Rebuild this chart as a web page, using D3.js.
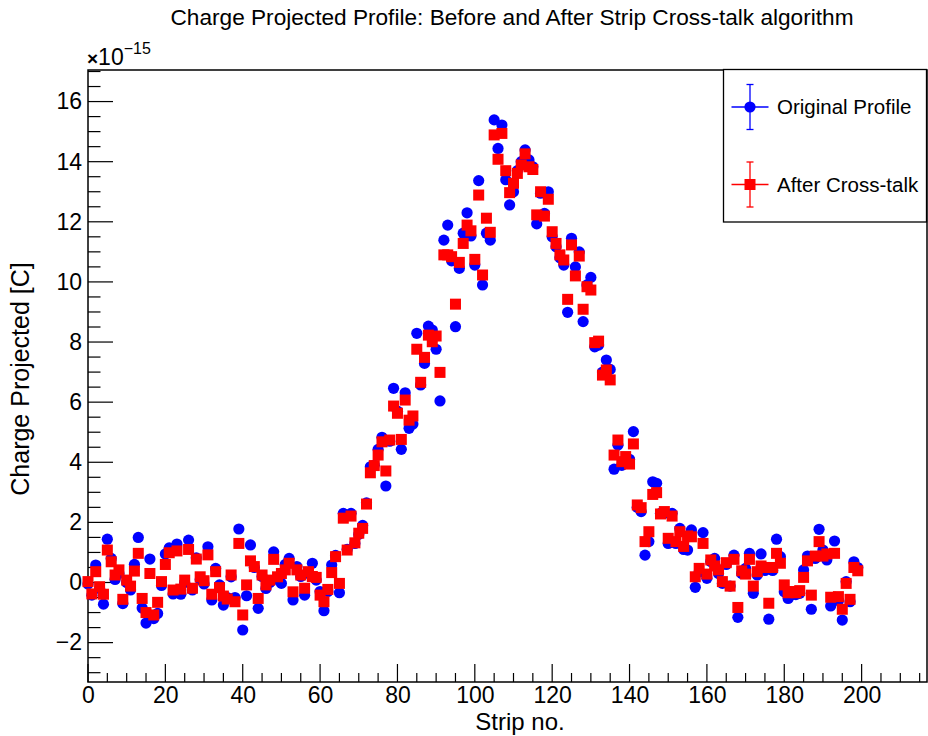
<!DOCTYPE html>
<html>
<head>
<meta charset="utf-8">
<script src="https://cdn.jsdelivr.net/npm/d3@7"></script>
<style>
  body { margin: 0; background: #fff; }
  svg { display: block; font-family: 'Liberation Sans', Arial, sans-serif; }
</style>
</head>
<body>
<div id="plot"></div>
<script>
// Strip numbers 0..199
let strips = d3.range(0, 200)

// Charge per strip, units of 1e-15 C
let originalProfile = [
  -0.05, -0.42, 0.58, -0.2, -0.72, 1.44, 0.8, 0.1, 0.3, -0.7,
  0.0, -0.25, 0.6, 1.5, -0.85, -1.35, 0.78, -1.2, -1.03, -0.1,
  0.95, 1.15, -0.38, 1.28, -0.39, 0.0, 1.41, -0.25, 0.82, 0.1,
  -0.05, 1.19, -0.58, 0.47, -0.08, -0.75, -0.5, 0.19, -0.5, 1.78,
  -1.58, -0.44, 1.25, 0.5, -0.86, 0.2, -0.2, 0.0, 1.02, 0.1,
  -0.03, 0.6, 0.8, -0.58, 0.53, 0.2, -0.42, 0.3, 0.64, 0.08,
  -0.3, -0.94, -0.3, 0.58, 0.9, -0.34, 2.3, 1.1, 2.3, 1.3,
  1.6, 1.9, 2.65, 3.85, 3.9, 4.43, 4.83, 3.21, 4.7, 6.46,
  5.7, 4.43, 6.31, 5.13, 5.27, 8.29, 6.57, 7.29, 8.53, 8.4,
  7.76, 6.04, 11.39, 11.89, 10.7, 8.51, 10.45, 11.62, 12.3, 11.53,
  10.56, 13.37, 9.9, 11.62, 11.39, 15.39, 14.44, 15.22, 13.4, 12.56,
  13.0, 13.7, 14.0, 14.39, 14.06, 13.83, 11.93, 12.95, 12.28, 13.0,
  11.5, 11.17, 10.8, 10.56, 8.99, 11.45, 10.5, 11.0, 8.68, 9.9,
  10.15, 7.84, 7.9, 7.0, 7.4, 7.09, 3.77, 4.57, 3.9, 4.1,
  4.1, 5.02, 2.5, 2.36, 0.91, 1.36, 3.35, 3.3, 2.3, 2.3,
  1.3, 2.3, 1.3, 1.8, 1.1, 1.08, 1.75, -0.16, 0.35, 1.66,
  0.14, 0.7, 0.8, 0.3, -0.03, 0.6, -0.12, 0.91, -1.16, 0.3,
  0.47, 0.97, -0.36, 0.25, 0.95, 0.4, -1.22, 0.4, 1.44, 0.86,
  -0.31, -0.53, -0.4, -0.4, -0.36, 0.42, 0.88, -0.89, 0.8, 1.77,
  1.08, 0.75, -0.78, 1.38, -0.6, -1.25, 0.03, -0.64, 0.69, 0.5
]

let afterCrossTalk = [
  0.03, -0.38, 0.36, -0.14, -0.39, 1.08, 0.69, 0.25, 0.42, -0.56,
  0.08, -0.12, 0.38, 0.97, -0.53, -1.0, 0.3, -1.08, -0.66, 0.03,
  0.6, 0.99, -0.25, 1.05, -0.22, 0.08, 1.1, -0.19, 0.78, 0.19,
  0.06, 0.92, -0.39, 0.36, -0.17, -0.45, -0.55, 0.25, -0.64, 1.3,
  -1.08, -0.08, 0.72, 0.53, -0.53, 0.25, -0.08, 0.08, 0.77, 0.19,
  0.3, 0.42, 0.64, -0.31, 0.42, 0.25, -0.19, 0.36, 0.2, 0.17,
  -0.42, -0.64, -0.23, 0.33, 0.86, -0.03, 2.14, 1.08, 2.21, 1.32,
  1.64, 1.8, 2.61, 3.65, 3.89, 4.24, 4.68, 3.71, 4.74, 5.87,
  5.63, 4.76, 6.07, 5.4, 5.54, 7.76, 6.66, 7.49, 8.23, 8.01,
  8.2, 6.99, 10.9, 10.9, 10.84, 9.26, 10.65, 11.28, 11.89, 11.7,
  10.75, 12.89, 10.23, 12.12, 11.65, 14.89, 14.08, 14.94, 13.7, 12.97,
  13.28, 13.61, 13.89, 14.26, 13.83, 13.74, 12.23, 13.0, 12.19, 12.75,
  11.67, 11.28, 10.9, 10.73, 9.42, 11.23, 10.2, 10.86, 9.09, 9.84,
  9.73, 7.98, 8.03, 6.9, 7.07, 6.74, 4.24, 4.74, 4.02, 4.19,
  3.94, 4.61, 2.58, 2.49, 1.36, 1.69, 2.93, 2.99, 2.28, 2.36,
  1.47, 2.21, 1.36, 1.69, 1.2, 1.55, 1.52, 0.19, 0.47, 1.3,
  0.28, 0.75, 0.55, 0.42, 0.03, 0.66, -0.12, 0.77, -0.83, 0.39,
  0.28, 0.77, -0.12, 0.36, 0.55, 0.5, -0.69, 0.5, 0.97, 0.64,
  -0.08, -0.34, -0.3, -0.34, -0.27, 0.17, 0.72, -0.42, 0.88, 1.36,
  0.88, 0.95, -0.49, 0.97, -0.47, -0.89, -0.03, -0.56, 0.5, 0.39
]

let seriesNames = ['Original Profile', 'After Cross-talk']
let xTicks = [0, 20, 40, 60, 80, 100, 120, 140, 160, 180, 200]
let yTicks = [-2, 0, 2, 4, 6, 8, 10, 12, 14, 16]

// Plot constants
let width = 928
let height = 736
let frame = {l: 88, r: 927, t: 70, b: 682}

let svg = d3.select('#plot')
  .append('svg')
  .attr('width', width)
  .attr('height', height)

let x = d3.scaleLinear()
  .domain([0, 216.9])
  .range([frame.l, frame.r])

let y = d3.scaleLinear()
  .domain([-3.31, 17.05])
  .range([frame.b, frame.t])

// Title
svg.append('text')
  .attr('x', 512)
  .attr('y', 25)
  .attr('text-anchor', 'middle')
  .style('font-size', '21.5px')
  .attr('textLength', 683)
  .attr('lengthAdjust', 'spacingAndGlyphs')
  .text('Charge Projected Profile: Before and After Strip Cross-talk algorithm')

// Ticks, drawn by hand like ROOT does
let g = svg.append('g')

g.selectAll('line.xminor')
  .data(d3.range(0, 217, 5))
  .enter().append('line')
  .attr('x1', d => x(d)).attr('x2', d => x(d))
  .attr('y1', frame.b).attr('y2', d => d % 20 == 0 ? frame.b - 18 : frame.b - 9)
  .attr('stroke', '#000')
  .attr('stroke-width', 1.2)

g.selectAll('line.yminor')
  .data(d3.range(-3, 17.01, 0.5))
  .enter().append('line')
  .attr('y1', d => y(d)).attr('y2', d => y(d))
  .attr('x1', frame.l).attr('x2', d => Math.abs(d % 2) < 1e-9 ? frame.l + 25 : frame.l + 12.5)
  .attr('stroke', '#000')
  .attr('stroke-width', 1.2)

// Axes (labels only, ticks above)
let xAxis = d3.axisBottom(x)
  .tickValues(xTicks)
  .tickSize(0)
  .tickPadding(5)

let yAxis = d3.axisLeft(y)
  .tickValues(yTicks)
  .tickSize(0)
  .tickPadding(6)

svg.append('g')
  .attr('transform', `translate(0, ${frame.b})`)
  .call(xAxis)
  .call(g => g.select('.domain').remove())
  .selectAll('text')
  .style('font-family', "'Liberation Sans', Arial, sans-serif")
  .style('font-size', '23px')
  .attr('fill', '#000')

svg.append('g')
  .attr('transform', `translate(${frame.l}, 0)`)
  .call(yAxis)
  .call(g => g.select('.domain').remove())
  .selectAll('text')
  .style('font-family', "'Liberation Sans', Arial, sans-serif")
  .style('font-size', '23px')
  .attr('fill', '#000')

// Frame
svg.append('rect')
  .attr('x', frame.l)
  .attr('y', frame.t)
  .attr('width', frame.r - frame.l)
  .attr('height', frame.b - frame.t)
  .attr('fill', 'none')
  .attr('stroke', '#000')
  .attr('stroke-width', 1.5)

// Exponent label
let expo = svg.append('text')
  .attr('x', 87)
  .attr('y', 65)
  .style('font-size', '23px')
expo.append('tspan').style('font-weight', 'bold').style('font-size', '19px').text('\u00d7')
expo.append('tspan').text('10')
expo.append('tspan').attr('dy', -11).style('font-size', '16px').text('\u221215')

// Axis titles
svg.append('text')
  .attr('transform', 'translate(29, 379) rotate(-90)')
  .attr('text-anchor', 'middle')
  .style('font-size', '25px')
  .text('Charge Projected [C]')

svg.append('text')
  .attr('x', 520)
  .attr('y', 730)
  .attr('text-anchor', 'middle')
  .style('font-size', '24px')
  .text('Strip no.')

// Data points
let plot = svg.append('g')

plot.selectAll('circle.orig')
  .data(strips)
  .enter().append('circle')
  .attr('cx', d => x(d))
  .attr('cy', d => y(originalProfile[d]))
  .attr('r', 5.6)
  .attr('fill', '#0000ff')

plot.selectAll('rect.after')
  .data(strips)
  .enter().append('rect')
  .attr('x', d => x(d) - 5.5)
  .attr('y', d => y(afterCrossTalk[d]) - 5.5)
  .attr('width', 11)
  .attr('height', 11)
  .attr('fill', '#ff0000')

// Legend
let legend = svg.append('g')

legend.append('rect')
  .attr('x', 723.5)
  .attr('y', 69.5)
  .attr('width', 203)
  .attr('height', 152.5)
  .attr('fill', '#fff')
  .attr('stroke', '#000')
  .attr('stroke-width', 1.3)

let legendRows = [
  {name: seriesNames[0], color: '#0000ff', cy: 107, shape: 'circle'},
  {name: seriesNames[1], color: '#ff0000', cy: 184.5, shape: 'square'},
]

legendRows.forEach(function(row) {
  let lg = legend.append('g').attr('stroke', row.color).attr('stroke-width', 1.3)
  lg.append('line').attr('x1', 731.5).attr('x2', 768.5).attr('y1', row.cy).attr('y2', row.cy)
  lg.append('line').attr('x1', 750).attr('x2', 750).attr('y1', row.cy - 22.5).attr('y2', row.cy + 22.5)
  lg.append('line').attr('x1', 746.5).attr('x2', 753.5).attr('y1', row.cy - 22.5).attr('y2', row.cy - 22.5)
  lg.append('line').attr('x1', 746.5).attr('x2', 753.5).attr('y1', row.cy + 22.5).attr('y2', row.cy + 22.5)
  if (row.shape == 'circle') {
    legend.append('circle').attr('cx', 750).attr('cy', row.cy).attr('r', 5.6).attr('fill', row.color)
  } else {
    legend.append('rect').attr('x', 744.5).attr('y', row.cy - 5.5).attr('width', 11).attr('height', 11).attr('fill', row.color)
  }
  legend.append('text')
    .attr('x', 777)
    .attr('y', row.cy + 7)
    .style('font-size', '20.5px')
    .text(row.name)
})
</script>
</body>
</html>
